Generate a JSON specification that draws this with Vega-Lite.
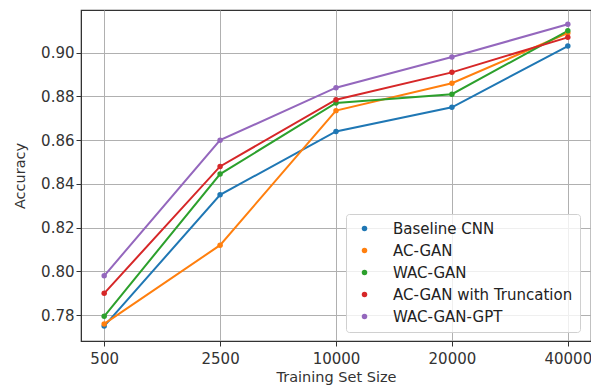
{
  "$schema": "https://vega.github.io/schema/vega-lite/v6.json",
  "width": 510,
  "height": 331,
  "autosize": {"type": "none"},
  "padding": {"left": 81, "top": 10, "right": 0, "bottom": 46},
  "background": "white",
  "config": {
    "font": "DejaVu Sans",
    "view": {"stroke": "#333333", "strokeWidth": 1.2},
    "axis": {
      "labelFont": "DejaVu Sans",
      "titleFont": "DejaVu Sans",
      "labelFontSize": 15,
      "titleFontSize": 14.5,
      "labelColor": "#333333",
      "titleColor": "#333333",
      "titleFontWeight": "normal",
      "gridColor": "#b0b0b0",
      "gridWidth": 1,
      "domainColor": "#333333",
      "tickColor": "#333333",
      "tickSize": 5
    }
  },
  "data": {
    "values": [
      {"size": "500", "model": "Baseline CNN", "acc": 0.775},
      {"size": "2500", "model": "Baseline CNN", "acc": 0.835},
      {"size": "10000", "model": "Baseline CNN", "acc": 0.864},
      {"size": "20000", "model": "Baseline CNN", "acc": 0.875},
      {"size": "40000", "model": "Baseline CNN", "acc": 0.903},
      {"size": "500", "model": "AC-GAN", "acc": 0.776},
      {"size": "2500", "model": "AC-GAN", "acc": 0.812},
      {"size": "10000", "model": "AC-GAN", "acc": 0.8735},
      {"size": "20000", "model": "AC-GAN", "acc": 0.886},
      {"size": "40000", "model": "AC-GAN", "acc": 0.909},
      {"size": "500", "model": "WAC-GAN", "acc": 0.7795},
      {"size": "2500", "model": "WAC-GAN", "acc": 0.8445},
      {"size": "10000", "model": "WAC-GAN", "acc": 0.877},
      {"size": "20000", "model": "WAC-GAN", "acc": 0.881},
      {"size": "40000", "model": "WAC-GAN", "acc": 0.910},
      {"size": "500", "model": "AC-GAN with Truncation", "acc": 0.790},
      {"size": "2500", "model": "AC-GAN with Truncation", "acc": 0.848},
      {"size": "10000", "model": "AC-GAN with Truncation", "acc": 0.8785},
      {"size": "20000", "model": "AC-GAN with Truncation", "acc": 0.891},
      {"size": "40000", "model": "AC-GAN with Truncation", "acc": 0.907},
      {"size": "500", "model": "WAC-GAN-GPT", "acc": 0.798},
      {"size": "2500", "model": "WAC-GAN-GPT", "acc": 0.860},
      {"size": "10000", "model": "WAC-GAN-GPT", "acc": 0.884},
      {"size": "20000", "model": "WAC-GAN-GPT", "acc": 0.898},
      {"size": "40000", "model": "WAC-GAN-GPT", "acc": 0.913}
    ]
  },
  "encoding": {
    "x": {
      "field": "size",
      "type": "ordinal",
      "sort": ["500", "2500", "10000", "20000", "40000"],
      "scale": {"type": "point", "padding": 0.2},
      "axis": {"title": "Training Set Size", "labelAngle": 0, "grid": true, "labelPadding": 5, "titlePadding": 4}
    },
    "y": {
      "field": "acc",
      "type": "quantitative",
      "scale": {"domain": [0.7682, 0.9195], "nice": false, "zero": false},
      "axis": {"title": "Accuracy", "values": [0.78, 0.80, 0.82, 0.84, 0.86, 0.88, 0.90], "format": ".2f", "grid": true, "titlePadding": 13}
    },
    "color": {
      "field": "model",
      "type": "nominal",
      "scale": {
        "domain": ["Baseline CNN", "AC-GAN", "WAC-GAN", "AC-GAN with Truncation", "WAC-GAN-GPT"],
        "range": ["#1f77b4", "#ff7f0e", "#2ca02c", "#d62728", "#9467bd"]
      },
      "legend": {
        "title": null,
        "orient": "none",
        "legendX": 265,
        "legendY": 204,
        "labelFontSize": 15,
        "labelFont": "DejaVu Sans",
        "labelColor": "#222222",
        "labelLimit": 400,
        "symbolType": "circle",
        "symbolSize": 30,
        "symbolOpacity": 1,
        "symbolStrokeWidth": 0,
        "symbolOffset": 4,
        "rowPadding": 6,
        "labelOffset": 21,
        "padding": 7,
        "strokeColor": "#d0d0d0",
        "fillColor": "rgba(255,255,255,0.8)",
        "cornerRadius": 3
      }
    }
  },
  "layer": [
    {
      "mark": {"type": "line", "strokeWidth": 2}
    },
    {
      "mark": {"type": "point", "filled": true, "size": 30, "opacity": 1}
    }
  ]
}
